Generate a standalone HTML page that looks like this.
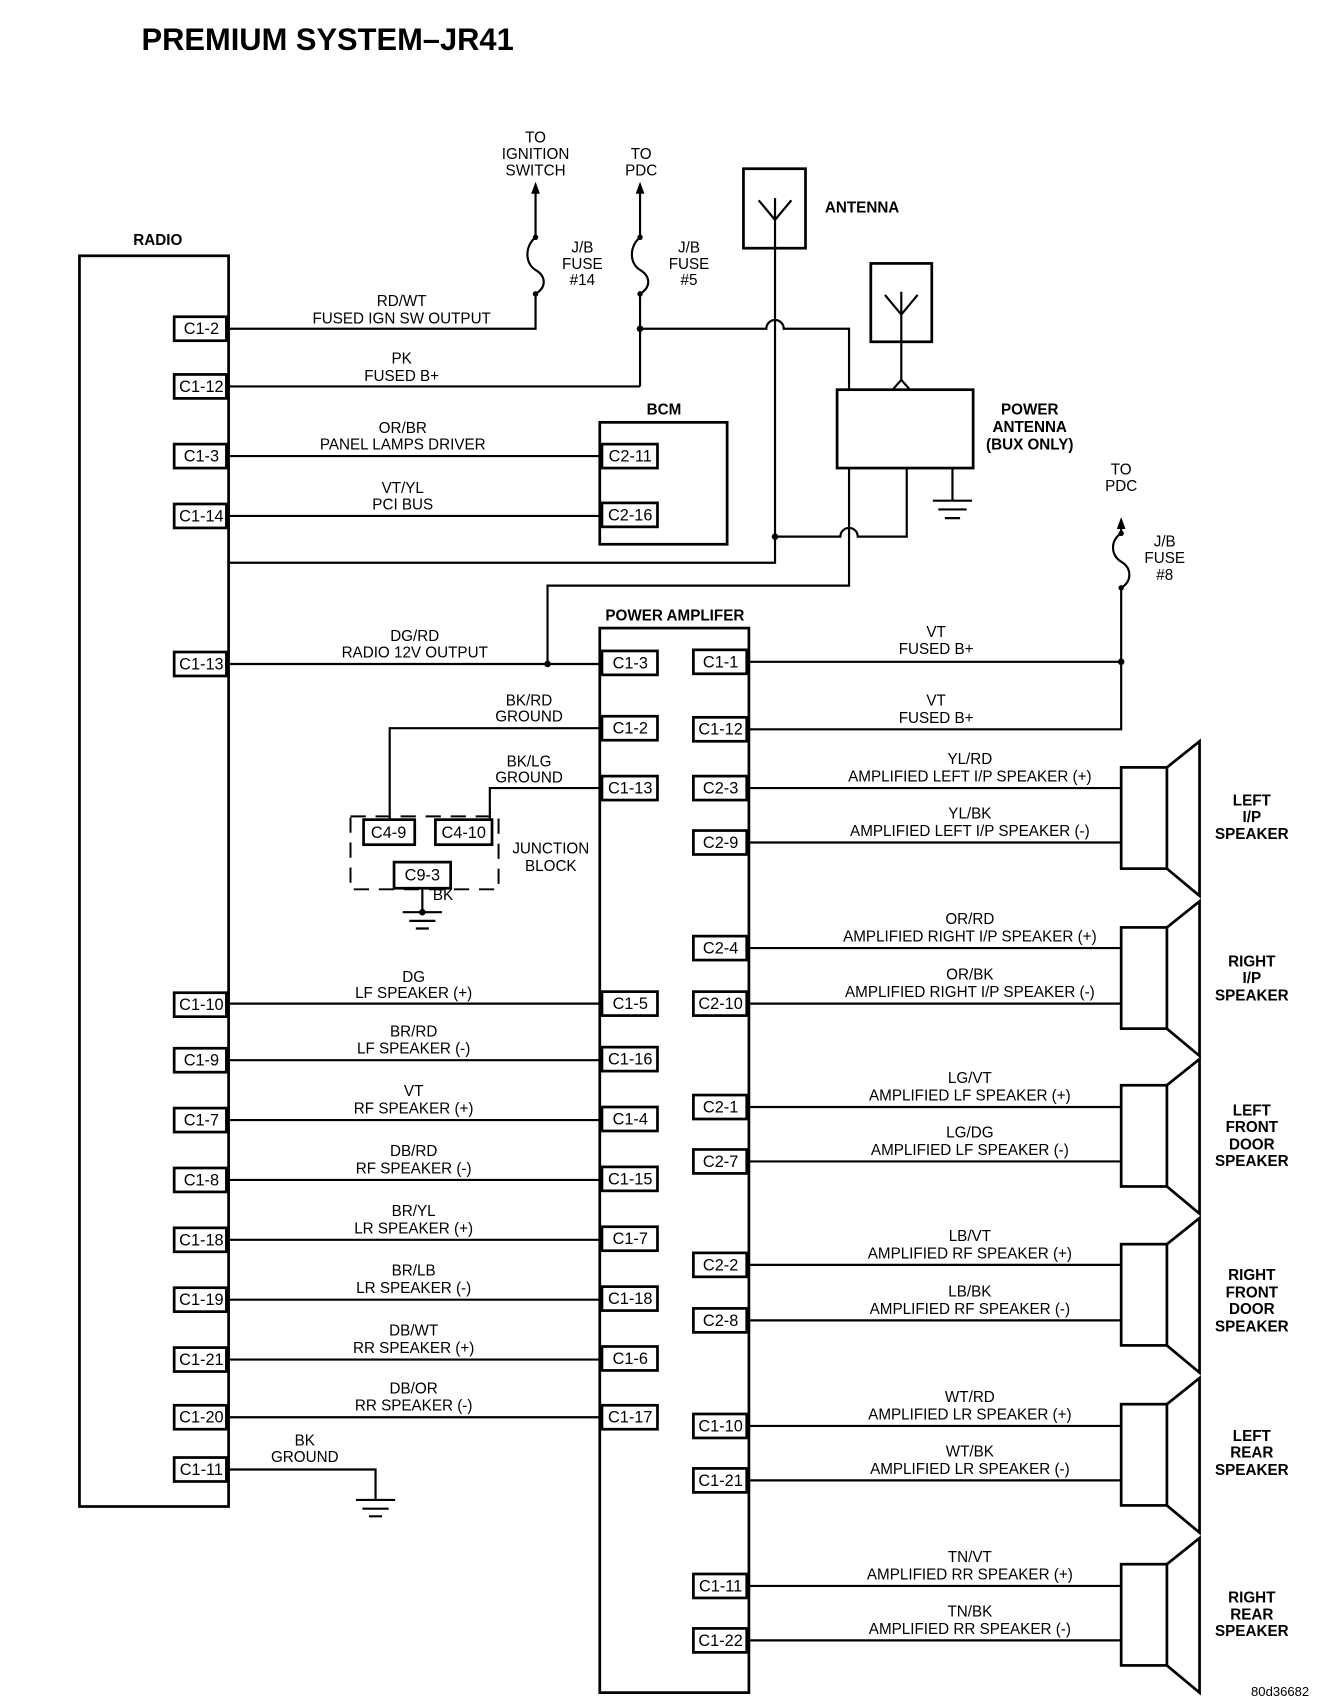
<!DOCTYPE html>
<html><head><meta charset="utf-8"><style>
html,body{margin:0;padding:0;background:#fff}
svg{display:block}
text{font-family:"Liberation Sans",Arial,sans-serif;fill:#000}
.t{font-size:14px;text-anchor:middle}
.b{font-size:14px;font-weight:bold;text-anchor:middle}
.c{font-size:15px;text-anchor:middle}
</style></head><body>
<svg width="1328" height="1702" viewBox="0 0 1220 1563.6" xmlns="http://www.w3.org/2000/svg">
<text x="130" y="46" style="font-size:29px;font-weight:bold" textLength="342" lengthAdjust="spacingAndGlyphs">PREMIUM SYSTEM–JR41</text>

<g stroke="#000" fill="none" stroke-width="2">
<rect x="73" y="235" width="137" height="1149" stroke-width="2.5"/>
<rect x="551" y="577" width="137" height="978" stroke-width="2.5"/>
<rect x="551" y="388" width="117" height="112" stroke-width="2.5"/>
<rect x="683" y="155" width="57" height="73" stroke-width="2.5"/>
<path d="M712 182 V228 M697 184 L712 202 L727 184"/>
<rect x="800" y="242" width="56" height="72" stroke-width="2.5"/>
<path d="M828 268 V349 M813 271 L828 289 L843 271 M820 358 L828 349 L836 358"/>
<rect x="769" y="358" width="125" height="72" stroke-width="2.5"/>
<path d="M712 228 V517 H210"/>
<path d="M210 302 H492 V270 C502 264 502 254 492 248 C482 242 482 226 492 218 V176"/>
<path d="M588 355 H210"/>
<path d="M588 355 V270 C598 264 598 254 588 248 C578 242 578 226 588 218 V176"/>
<path d="M588 302 H704 A8 8 0 0 1 720 302 H780 V358"/>
<path d="M712 493 H772 A8 8 0 0 1 788 493 H833 V430"/>
<path d="M780 430 V538 H503 V610"/>
<path d="M875 430 V460 M857 460 H893 M862 468 H888 M868 476 H882"/>
<path d="M210 419 H553 M210 474 H553"/>
<path d="M210 610 H553"/>
<path d="M688 608 H1030 M688 670 H1030 V540 C1040 534 1040 522 1030 516 C1020 510 1020 496 1030 490 V482"/>
<path d="M553 669 H358 V753 M553 724 H450 V753"/>
<rect x="322" y="750" width="136" height="67" stroke-dasharray="14 9" stroke-width="1.8"/>
<path d="M388 816 V838 M370 838 H406 M376 846 H400 M382 853 H394"/>
<path d="M210 1350 H345 V1378 M327 1378 H363 M333 1386 H357 M339 1393 H351"/>
<path d="M210 922 H553 M210 974 H553 M210 1029 H553 M210 1084 H553 M210 1139 H553 M210 1194 H553 M210 1249 H553 M210 1302 H553"/>
<path d="M688 724 H1030 M688 774 H1030 M688 871 H1030 M688 922 H1030 M688 1017 H1030 M688 1067 H1030 M688 1162 H1030 M688 1213 H1030 M688 1310 H1030 M688 1360 H1030 M688 1457 H1030 M688 1507 H1030"/>
<g stroke-width="2.5">
<rect x="1030" y="705" width="42" height="93"/><path d="M1072 705 L1102 681 V823 L1072 798"/>
<rect x="1030" y="852" width="42" height="93"/><path d="M1072 852 L1102 828 V970 L1072 945"/>
<rect x="1030" y="997" width="42" height="93"/><path d="M1072 997 L1102 973 V1115 L1072 1090"/>
<rect x="1030" y="1143" width="42" height="93"/><path d="M1072 1143 L1102 1119 V1261 L1072 1236"/>
<rect x="1030" y="1290" width="42" height="93"/><path d="M1072 1290 L1102 1266 V1408 L1072 1383"/>
<rect x="1030" y="1437" width="42" height="93"/><path d="M1072 1437 L1102 1413 V1555 L1072 1530"/>
</g>
<g stroke-width="2.5">
<rect x="160" y="291" width="48" height="22"/><rect x="160" y="344" width="48" height="22"/>
<rect x="160" y="408" width="48" height="22"/><rect x="160" y="463" width="48" height="22"/>
<rect x="160" y="599" width="48" height="22"/><rect x="160" y="912" width="48" height="22"/>
<rect x="160" y="963" width="48" height="22"/><rect x="160" y="1018" width="48" height="22"/>
<rect x="160" y="1073" width="48" height="22"/><rect x="160" y="1128" width="48" height="22"/>
<rect x="160" y="1183" width="48" height="22"/><rect x="160" y="1238" width="48" height="22"/>
<rect x="160" y="1291" width="48" height="22"/><rect x="160" y="1339" width="48" height="22"/>
<rect x="553" y="408" width="51" height="22"/><rect x="553" y="462" width="51" height="22"/>
<rect x="553" y="598" width="51" height="22"/><rect x="553" y="658" width="51" height="22"/>
<rect x="553" y="713" width="51" height="22"/><rect x="553" y="911" width="51" height="22"/>
<rect x="553" y="962" width="51" height="22"/><rect x="553" y="1017" width="51" height="22"/>
<rect x="553" y="1072" width="51" height="22"/><rect x="553" y="1127" width="51" height="22"/>
<rect x="553" y="1182" width="51" height="22"/><rect x="553" y="1237" width="51" height="22"/>
<rect x="553" y="1291" width="51" height="22"/>
<rect x="637" y="597" width="49" height="22"/><rect x="637" y="659" width="49" height="22"/>
<rect x="637" y="713" width="49" height="22"/><rect x="637" y="763" width="49" height="22"/>
<rect x="637" y="860" width="49" height="22"/><rect x="637" y="911" width="49" height="22"/>
<rect x="637" y="1006" width="49" height="22"/><rect x="637" y="1056" width="49" height="22"/>
<rect x="637" y="1151" width="49" height="22"/><rect x="637" y="1202" width="49" height="22"/>
<rect x="637" y="1299" width="49" height="22"/><rect x="637" y="1349" width="49" height="22"/>
<rect x="637" y="1446" width="49" height="22"/><rect x="637" y="1496" width="49" height="22"/>
<rect x="334" y="753" width="47" height="23"/><rect x="400" y="753" width="52" height="23"/>
<rect x="362" y="792" width="52" height="24"/>
</g>
</g>
<g fill="#000">
<path d="M492 167 L488 178 L496 178Z M588 167 L584 178 L592 178Z M1030 475 L1026 486 L1034 486Z"/>
<circle cx="492" cy="218" r="2.5"/><circle cx="492" cy="270" r="2.5"/>
<circle cx="588" cy="218" r="2.5"/><circle cx="588" cy="270" r="2.5"/>
<circle cx="588" cy="302" r="3"/><circle cx="712" cy="493" r="3"/><circle cx="503" cy="610" r="3"/>
<circle cx="1030" cy="608" r="3"/><circle cx="1030" cy="540" r="2.5"/><circle cx="1030" cy="490" r="2.5"/>
<circle cx="388" cy="838" r="3"/>
</g>
<g class="c">
<text x="185" y="307" class="c">C1-2</text><text x="185" y="360" class="c">C1-12</text>
<text x="185" y="424" class="c">C1-3</text><text x="185" y="479" class="c">C1-14</text>
<text x="185" y="615" class="c">C1-13</text><text x="185" y="928" class="c">C1-10</text>
<text x="185" y="979" class="c">C1-9</text><text x="185" y="1034" class="c">C1-7</text>
<text x="185" y="1089" class="c">C1-8</text><text x="185" y="1144" class="c">C1-18</text>
<text x="185" y="1199" class="c">C1-19</text><text x="185" y="1254" class="c">C1-21</text>
<text x="185" y="1307" class="c">C1-20</text><text x="185" y="1355" class="c">C1-11</text>
<text x="579" y="424" class="c">C2-11</text><text x="579" y="478" class="c">C2-16</text>
<text x="579" y="614" class="c">C1-3</text><text x="579" y="674" class="c">C1-2</text>
<text x="579" y="729" class="c">C1-13</text><text x="579" y="927" class="c">C1-5</text>
<text x="579" y="978" class="c">C1-16</text><text x="579" y="1033" class="c">C1-4</text>
<text x="579" y="1088" class="c">C1-15</text><text x="579" y="1143" class="c">C1-7</text>
<text x="579" y="1198" class="c">C1-18</text><text x="579" y="1253" class="c">C1-6</text>
<text x="579" y="1307" class="c">C1-17</text>
<text x="662" y="613" class="c">C1-1</text><text x="662" y="675" class="c">C1-12</text>
<text x="662" y="729" class="c">C2-3</text><text x="662" y="779" class="c">C2-9</text>
<text x="662" y="876" class="c">C2-4</text><text x="662" y="927" class="c">C2-10</text>
<text x="662" y="1022" class="c">C2-1</text><text x="662" y="1072" class="c">C2-7</text>
<text x="662" y="1167" class="c">C2-2</text><text x="662" y="1218" class="c">C2-8</text>
<text x="662" y="1315" class="c">C1-10</text><text x="662" y="1365" class="c">C1-21</text>
<text x="662" y="1462" class="c">C1-11</text><text x="662" y="1512" class="c">C1-22</text>
<text x="357" y="770" class="c">C4-9</text><text x="426" y="770" class="c">C4-10</text>
<text x="388" y="809" class="c">C9-3</text>
</g>
<g class="t">
<text x="492" y="131" class="t">TO</text><text x="492" y="146" class="t">IGNITION</text><text x="492" y="161" class="t">SWITCH</text>
<text x="589" y="146" class="t">TO</text><text x="589" y="161" class="t">PDC</text>
<text x="535" y="232" class="t">J/B</text><text x="535" y="247" class="t">FUSE</text><text x="535" y="262" class="t">#14</text>
<text x="633" y="232" class="t">J/B</text><text x="633" y="247" class="t">FUSE</text><text x="633" y="262" class="t">#5</text>
<text x="369" y="281" class="t">RD/WT</text><text x="369" y="297" class="t">FUSED IGN SW OUTPUT</text>
<text x="369" y="334" class="t">PK</text><text x="369" y="350" class="t">FUSED B+</text>
<text x="370" y="398" class="t">OR/BR</text><text x="370" y="413" class="t">PANEL LAMPS DRIVER</text>
<text x="370" y="453" class="t">VT/YL</text><text x="370" y="468" class="t">PCI BUS</text>
<text x="381" y="589" class="t">DG/RD</text><text x="381" y="604" class="t">RADIO 12V OUTPUT</text>
<text x="486" y="648" class="t">BK/RD</text><text x="486" y="663" class="t">GROUND</text>
<text x="486" y="704" class="t">BK/LG</text><text x="486" y="719" class="t">GROUND</text>
<text x="506" y="784" class="t">JUNCTION</text><text x="506" y="800" class="t">BLOCK</text>
<text x="407" y="827" class="t">BK</text>
<text x="280" y="1328" class="t">BK</text><text x="280" y="1343" class="t">GROUND</text>
<text x="1030" y="436" class="t">TO</text><text x="1030" y="451" class="t">PDC</text>
<text x="1070" y="502" class="t">J/B</text><text x="1070" y="517" class="t">FUSE</text><text x="1070" y="533" class="t">#8</text>
<text x="860" y="585" class="t">VT</text><text x="860" y="601" class="t">FUSED B+</text>
<text x="860" y="648" class="t">VT</text><text x="860" y="664" class="t">FUSED B+</text>
<text x="380" y="902" class="t">DG</text><text x="380" y="917" class="t">LF SPEAKER (+)</text>
<text x="380" y="952" class="t">BR/RD</text><text x="380" y="968" class="t">LF SPEAKER (-)</text>
<text x="380" y="1007" class="t">VT</text><text x="380" y="1023" class="t">RF SPEAKER (+)</text>
<text x="380" y="1062" class="t">DB/RD</text><text x="380" y="1078" class="t">RF SPEAKER (-)</text>
<text x="380" y="1117" class="t">BR/YL</text><text x="380" y="1133" class="t">LR SPEAKER (+)</text>
<text x="380" y="1172" class="t">BR/LB</text><text x="380" y="1188" class="t">LR SPEAKER (-)</text>
<text x="380" y="1227" class="t">DB/WT</text><text x="380" y="1243" class="t">RR SPEAKER (+)</text>
<text x="380" y="1280" class="t">DB/OR</text><text x="380" y="1296" class="t">RR SPEAKER (-)</text>
<text x="891" y="702" class="t">YL/RD</text><text x="891" y="718" class="t">AMPLIFIED LEFT I/P SPEAKER (+)</text>
<text x="891" y="752" class="t">YL/BK</text><text x="891" y="768" class="t">AMPLIFIED LEFT I/P SPEAKER (-)</text>
<text x="891" y="849" class="t">OR/RD</text><text x="891" y="865" class="t">AMPLIFIED RIGHT I/P SPEAKER (+)</text>
<text x="891" y="900" class="t">OR/BK</text><text x="891" y="916" class="t">AMPLIFIED RIGHT I/P SPEAKER (-)</text>
<text x="891" y="995" class="t">LG/VT</text><text x="891" y="1011" class="t">AMPLIFIED LF SPEAKER (+)</text>
<text x="891" y="1045" class="t">LG/DG</text><text x="891" y="1061" class="t">AMPLIFIED LF SPEAKER (-)</text>
<text x="891" y="1140" class="t">LB/VT</text><text x="891" y="1156" class="t">AMPLIFIED RF SPEAKER (+)</text>
<text x="891" y="1191" class="t">LB/BK</text><text x="891" y="1207" class="t">AMPLIFIED RF SPEAKER (-)</text>
<text x="891" y="1288" class="t">WT/RD</text><text x="891" y="1304" class="t">AMPLIFIED LR SPEAKER (+)</text>
<text x="891" y="1338" class="t">WT/BK</text><text x="891" y="1354" class="t">AMPLIFIED LR SPEAKER (-)</text>
<text x="891" y="1435" class="t">TN/VT</text><text x="891" y="1451" class="t">AMPLIFIED RR SPEAKER (+)</text>
<text x="891" y="1485" class="t">TN/BK</text><text x="891" y="1501" class="t">AMPLIFIED RR SPEAKER (-)</text>
</g>
<g class="b">
<text x="145" y="225" class="b">RADIO</text>
<text x="610" y="381" class="b">BCM</text>
<text x="620" y="570" class="b">POWER AMPLIFER</text>
<text x="792" y="195" class="b">ANTENNA</text>
<text x="946" y="381" class="b">POWER</text><text x="946" y="397" class="b">ANTENNA</text><text x="946" y="413" class="b">(BUX ONLY)</text>
<text x="1150" y="740" class="b">LEFT</text><text x="1150" y="755" class="b">I/P</text><text x="1150" y="771" class="b">SPEAKER</text>
<text x="1150" y="888" class="b">RIGHT</text><text x="1150" y="903" class="b">I/P</text><text x="1150" y="919" class="b">SPEAKER</text>
<text x="1150" y="1025" class="b">LEFT</text><text x="1150" y="1040" class="b">FRONT</text><text x="1150" y="1056" class="b">DOOR</text><text x="1150" y="1071" class="b">SPEAKER</text>
<text x="1150" y="1176" class="b">RIGHT</text><text x="1150" y="1192" class="b">FRONT</text><text x="1150" y="1207" class="b">DOOR</text><text x="1150" y="1223" class="b">SPEAKER</text>
<text x="1150" y="1324" class="b">LEFT</text><text x="1150" y="1339" class="b">REAR</text><text x="1150" y="1355" class="b">SPEAKER</text>
<text x="1150" y="1472" class="b">RIGHT</text><text x="1150" y="1488" class="b">REAR</text><text x="1150" y="1503" class="b">SPEAKER</text>
</g>
<text x="1176" y="1558" style="font-size:12px;text-anchor:middle">80d36682</text>
</svg>
</body></html>
